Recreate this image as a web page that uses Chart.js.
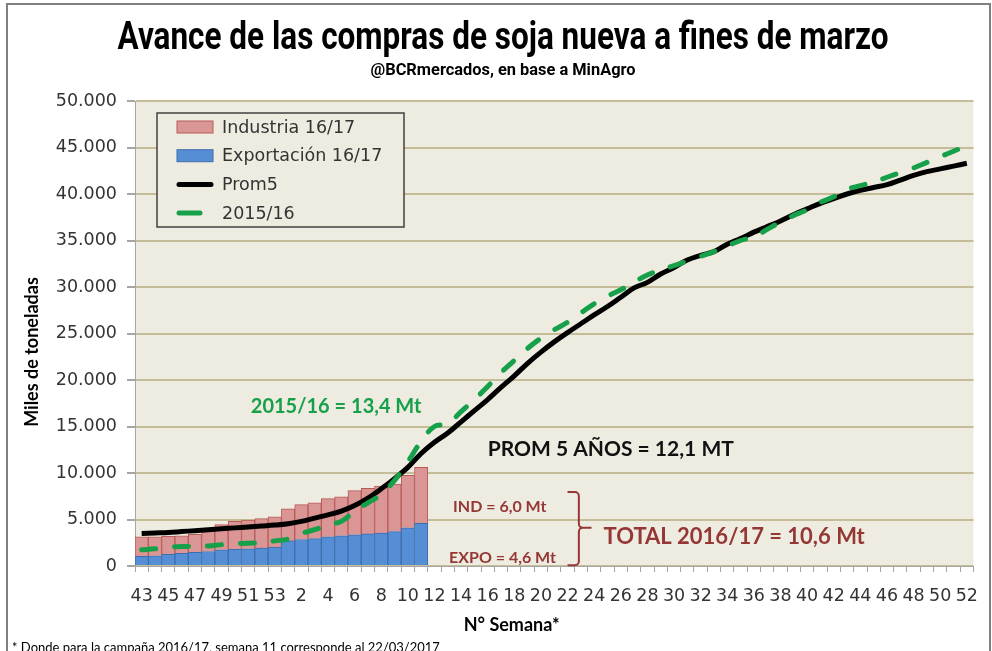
<!DOCTYPE html>
<html>
<head>
<meta charset="utf-8">
<script src="https://cdn.jsdelivr.net/npm/chart.js@4.4.1/dist/chart.umd.min.js"></script>
<style>
  html, body { margin: 0; padding: 0; background: #fff; }
  #wrap { width: 992px; height: 651px; }
</style>
</head>
<body>
<div id="wrap"><canvas id="myChart" width="992" height="651"></canvas></div>
<script>
// semanas: 43..53 de 2016, luego 1..52 de 2017
let semanas = ['43','44','45','46','47','48','49','50','51','52','53',
'1','2','3','4','5','6','7','8','9','10','11','12','13','14','15','16','17','18','19','20',
'21','22','23','24','25','26','27','28','29','30','31','32','33','34','35','36','37','38','39','40',
'41','42','43','44','45','46','47','48','49','50','51','52'];

// compras 2016/17 (miles de t), hasta la semana 11
let exportacion = [1050, 1100, 1250, 1350, 1480, 1560, 1750, 1800, 1850, 1920, 2030,
  2700, 2850, 2950, 3150, 3250, 3350, 3450, 3550, 3700, 4100, 4600];
let industria = [2100, 2050, 1950, 1900, 1920, 2340, 2700, 3000, 3100, 3180, 3270,
  3450, 3750, 3850, 4100, 4200, 4750, 4900, 5050, 5100, 5650, 6000];

let prom5 = [3500,3550,3600,3700,3800,3900,4000,4100,4200,4300,4400,
  4550,4800,5150,5500,5900,6500,7300,8300,9400,10600,12100,13300,14300,15500,16700,17900,19200,20450,21800,
  23000,24100,25100,26050,27000,27900,28900,29900,30500,31400,32100,32900,33400,33800,34600,35200,35900,36500,
  37100,37800,38400,39000,39500,40000,40400,40700,41000,41500,42000,42400,42700,43000,43300];

let campana1516 = [1750,1850,2000,2100,2100,2150,2300,2400,2450,2500,2700,
  2900,3500,3900,4450,4800,5900,6800,7700,9200,11200,13400,15000,15300,16600,17900,19300,20800,22100,23400,
  24500,25400,26200,27200,28200,29000,29700,30500,31300,31800,32300,32800,33300,33800,34400,35000,35400,36200,
  37000,37700,38300,39100,39700,40500,40900,41300,41800,42300,42800,43400,44000,44600,45200];

const VERDE = '#17A04A';
const BORDO = '#953735';
const fuenteTitulo = "Roboto, 'Liberation Sans', sans-serif";
const fuenteEjes = "'DejaVu Sans', sans-serif";
const fuenteNotas = "Lato, 'Open Sans', sans-serif";

const titulo = 'Avance de las compras de soja nueva a fines de marzo';
const subtitulo = '@BCRmercados, en base a MinAgro';

// textos sueltos sobre el grafico (posicion en indice de semana / valor)
const notas = [
  {text: '2015/16 = 13,4 Mt', idx: 8.2, val: 17100, color: VERDE, size: 20},
  {text: 'PROM 5 AÑOS = 12,1 MT', idx: 26.0, val: 12580, color: '#111', size: 21},
  {text: 'IND = 6,0 Mt', idx: 23.4, val: 6340, color: BORDO, size: 16},
  {text: 'EXPO = 4,6 Mt', idx: 23.1, val: 860, color: BORDO, size: 16},
  {text: 'TOTAL 2016/17 = 10,6 Mt', idx: 34.7, val: 3120, color: BORDO, size: 22}
];

function miles(v) {
  return String(v).replace(/\B(?=(\d{3})+(?!\d))/g, '.');
}

// texto angosto: se comprime en x hasta el ancho pedido
function textoAngosto(ctx, txt, cx, cy, font, ancho) {
  ctx.save();
  ctx.font = font;
  const w = ctx.measureText(txt).width;
  ctx.translate(cx, cy);
  ctx.scale(ancho / w, 1);
  ctx.textAlign = 'center';
  ctx.textBaseline = 'middle';
  ctx.fillText(txt, 0, 0);
  ctx.restore();
}

const fondoArea = {
  id: 'fondoArea',
  beforeDraw(chart) {
    const {ctx, chartArea: a} = chart;
    ctx.save();
    ctx.fillStyle = '#fff';
    ctx.fillRect(0, 0, chart.width, chart.height);
    ctx.fillStyle = '#EEECE1';
    ctx.fillRect(a.left, a.top, a.right - a.left, a.bottom - a.top);
    ctx.restore();
  }
};

const textosExtra = {
  id: 'textosExtra',
  afterDatasetsDraw(chart) {
    const ctx = chart.ctx;
    const xs = chart.scales.x, ys = chart.scales.y;
    ctx.save();

    ctx.fillStyle = '#000';
    textoAngosto(ctx, titulo, 503, 39, 'bold 39px ' + fuenteTitulo, 771);
    textoAngosto(ctx, subtitulo, 503, 71, 'bold 17px ' + fuenteTitulo, 265);

    ctx.textBaseline = 'middle';
    ctx.textAlign = 'left';
    notas.forEach(n => {
      ctx.font = 'bold ' + n.size + 'px ' + fuenteNotas;
      ctx.fillStyle = n.color;
      ctx.fillText(n.text, xs.getPixelForValue(n.idx), ys.getPixelForValue(n.val));
    });

    // llave "}" que une IND y EXPO
    const x0 = xs.getPixelForValue(32.0), x1 = xs.getPixelForValue(32.85), x2 = xs.getPixelForValue(33.8);
    const yTop = ys.getPixelForValue(7950), yMid = ys.getPixelForValue(4100), yBot = ys.getPixelForValue(80);
    ctx.strokeStyle = BORDO;
    ctx.lineWidth = 2;
    ctx.beginPath();
    ctx.moveTo(x0, yTop);
    ctx.arcTo(x1, yTop, x1, yTop + 5, 4);
    ctx.lineTo(x1, yMid - 4);
    ctx.arcTo(x1, yMid, x2, yMid, 4);
    ctx.lineTo(x2, yMid);
    ctx.moveTo(x1 + 4, yMid);
    ctx.arcTo(x1, yMid, x1, yMid + 4, 4);
    ctx.lineTo(x1, yBot - 4);
    ctx.arcTo(x1, yBot, x0, yBot, 4);
    ctx.lineTo(x0, yBot);
    ctx.stroke();

    // leyenda con recuadro
    const a = chart.chartArea;
    const lx = a.left + 22, ly = a.top + 12;
    ctx.fillStyle = '#EEECE1';
    ctx.fillRect(lx, ly, 247, 114);
    ctx.strokeStyle = '#404040';
    ctx.lineWidth = 1.5;
    ctx.strokeRect(lx, ly, 247, 114);
    ctx.font = '17.5px ' + fuenteEjes;
    [1, 0, 2, 3].forEach((di, k) => {
      const ds = chart.data.datasets[di];
      const cy = ly + 14 + k * 28.7;
      if (ds.type === 'bar') {
        ctx.fillStyle = ds.backgroundColor;
        ctx.fillRect(lx + 20, cy - 6, 36, 12);
        ctx.strokeStyle = ds.borderColor;
        ctx.lineWidth = 1;
        ctx.strokeRect(lx + 20, cy - 6, 36, 12);
      } else {
        ctx.strokeStyle = ds.borderColor;
        ctx.lineWidth = 5;
        ctx.lineCap = 'round';
        ctx.beginPath();
        ctx.moveTo(lx + 22, cy);
        ctx.lineTo(lx + (ds.borderDash ? 43 : 54), cy);
        ctx.stroke();
      }
      ctx.fillStyle = '#333';
      ctx.fillText(ds.label, lx + 65, cy + 1);
    });

    // titulos de ejes y nota al pie
    ctx.fillStyle = '#000';
    ctx.font = 'bold 18px ' + fuenteNotas;
    ctx.textAlign = 'center';
    ctx.fillText('N° Semana*', xs.getPixelForValue(27.8), 625);
    ctx.save();
    ctx.translate(32, 352);
    ctx.rotate(-Math.PI / 2);
    ctx.fillText('Miles de toneladas', 0, 0);
    ctx.restore();
    ctx.textAlign = 'left';
    ctx.textBaseline = 'top';
    ctx.font = '13px ' + fuenteNotas;
    ctx.fillText('* Donde para la campaña 2016/17, semana 11 corresponde al 22/03/2017', 12, 641);

    // marco exterior
    ctx.strokeStyle = '#808080';
    ctx.lineWidth = 2;
    ctx.strokeRect(7, 4, 983, 700);
    ctx.restore();
  }
};

let chartElement = document.getElementById('myChart').getContext('2d');

let myChart = new Chart(chartElement, {
  type: 'bar',
  data: {
    labels: semanas,
    datasets: [{
      type: 'bar',
      label: 'Exportación 16/17',
      data: exportacion,
      backgroundColor: '#558ED5',
      borderColor: '#3D6DAE',
      borderWidth: 1,
      stack: 'compras',
      order: 2,
      barPercentage: 1,
      categoryPercentage: 1
    }, {
      type: 'bar',
      label: 'Industria 16/17',
      data: industria,
      backgroundColor: '#D99694',
      borderColor: '#B85A57',
      borderWidth: 1,
      stack: 'compras',
      order: 3,
      barPercentage: 1,
      categoryPercentage: 1
    }, {
      type: 'line',
      label: 'Prom5',
      data: prom5,
      borderColor: '#000',
      borderWidth: 5,
      pointRadius: 0,
      tension: 0.4,
      stack: 'p5',
      order: 1
    }, {
      type: 'line',
      label: '2015/16',
      data: campana1516,
      borderColor: VERDE,
      borderWidth: 5,
      borderDash: [14, 19],
      borderCapStyle: 'round',
      pointRadius: 0,
      tension: 0.4,
      stack: 'c1516',
      order: 0
    }]
  },
  options: {
    responsive: false,
    animation: false,
    layout: { padding: { top: 101, left: 0, right: 6, bottom: 0 } },
    plugins: {
      legend: { display: false },
      tooltip: { enabled: false },
      title: { display: false }
    },
    scales: {
      x: {
        stacked: true,
        offset: true,
        grid: { display: true, drawOnChartArea: false, drawTicks: true, tickLength: 6, tickColor: '#A6A6A6', offset: true },
        border: { color: '#A6A6A6', width: 1 },
        ticks: {
          autoSkip: false,
          maxRotation: 0,
          minRotation: 0,
          padding: 14,
          color: '#333',
          font: { family: fuenteEjes, size: 17.5 },
          callback: function(val, i) { return i % 2 === 0 ? semanas[i] : ''; }
        },
        afterFit: function(scale) { scale.height = 85; }
      },
      y: {
        stacked: true,
        min: 0,
        max: 50000,
        grid: { color: '#C4BD97', lineWidth: 2, tickLength: 8, tickColor: '#A6A6A6' },
        border: { color: '#A6A6A6', width: 1 },
        ticks: {
          stepSize: 5000,
          padding: 10,
          color: '#333',
          font: { family: fuenteEjes, size: 17.5 },
          callback: function(v) { return miles(v); }
        },
        afterFit: function(scale) { scale.width = 135; }
      }
    }
  },
  plugins: [fondoArea, textosExtra]
});
</script>
</body>
</html>
